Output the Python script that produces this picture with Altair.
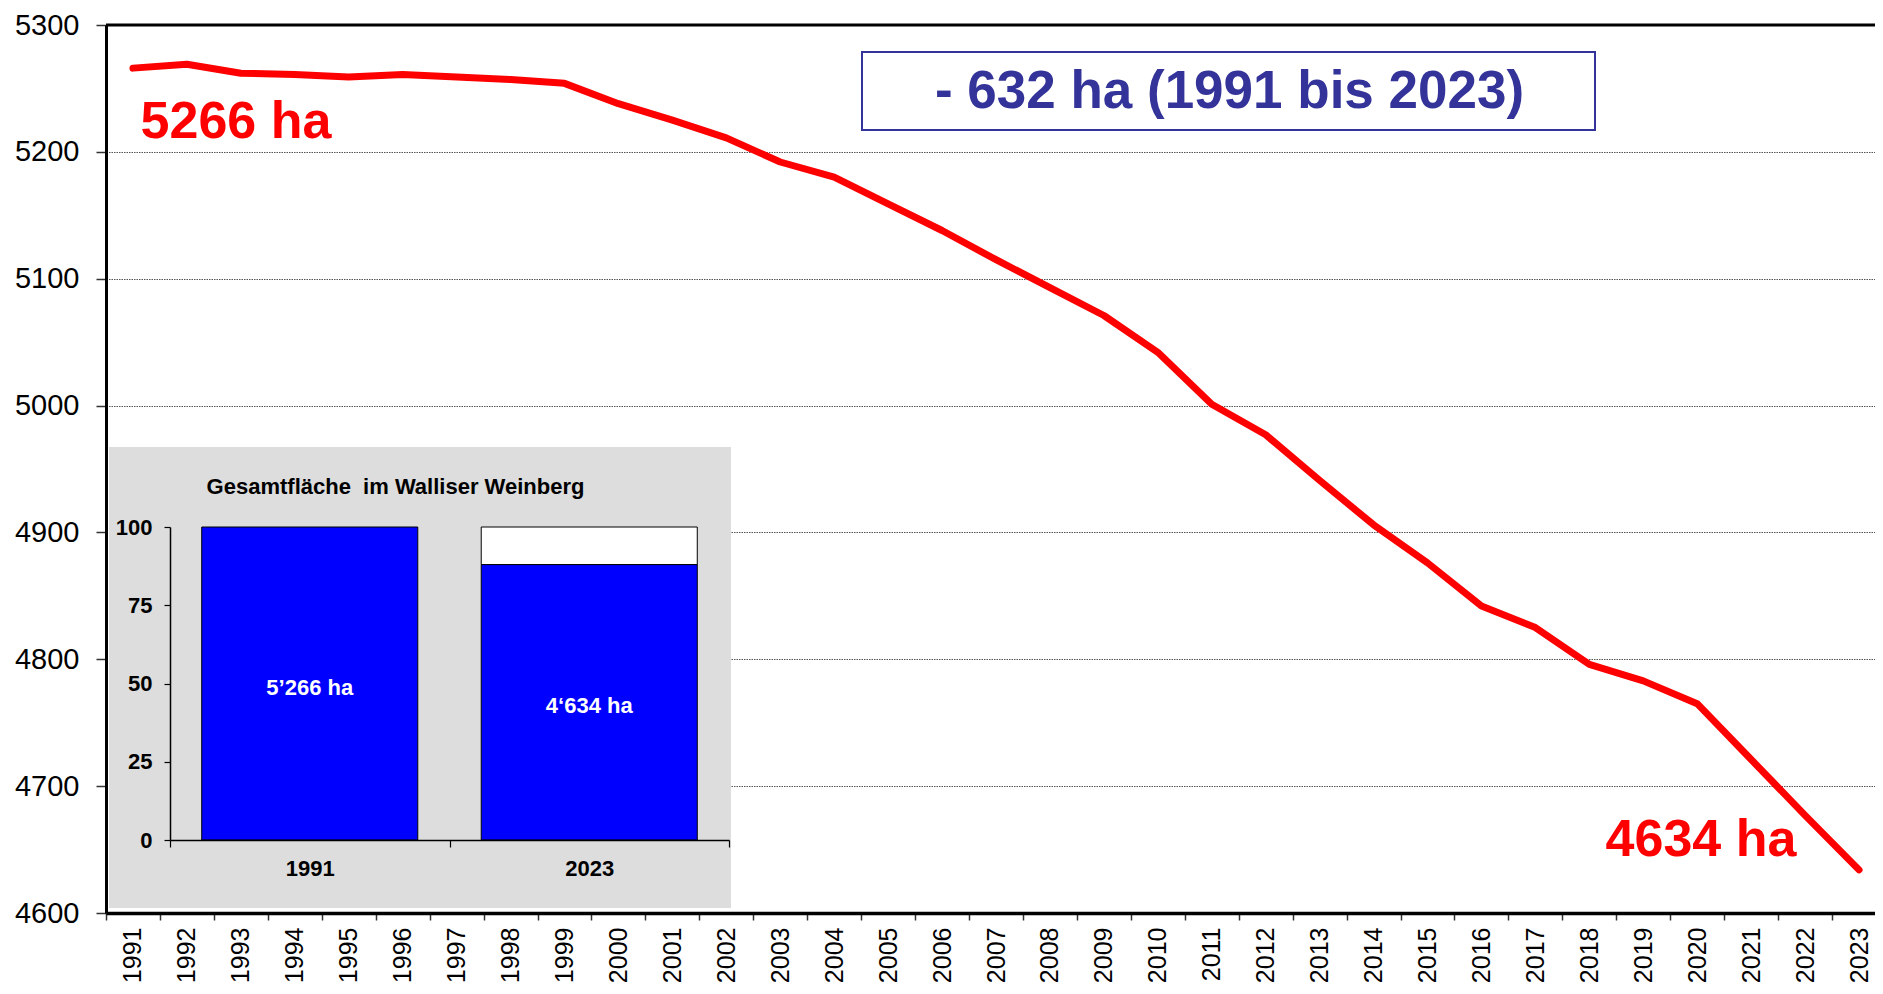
import altair as alt
import pandas as pd

FONT = "Liberation Sans"

# ---------------- data ----------------
years = ["1991", "1992", "1993", "1994", "1995", "1996", "1997", "1998", "1999", "2000",
         "2001", "2002", "2003", "2004", "2005", "2006", "2007", "2008", "2009", "2010",
         "2011", "2012", "2013", "2014", "2015", "2016", "2017", "2018", "2019", "2020",
         "2021", "2022", "2023"]
area_ha = [5266, 5269, 5262, 5261, 5259, 5261, 5259, 5257, 5254, 5238,
           5225, 5211, 5192, 5180, 5159, 5138, 5115, 5093, 5071, 5042,
           5001, 4977, 4941, 4906, 4876, 4842, 4825, 4796, 4783, 4765,
           4721, 4677, 4634]
y_ticks = [4600, 4700, 4800, 4900, 5000, 5100, 5200, 5300]

inset_years = ["1991", "2023"]
inset_share = [100.0, 88.0]
inset_labels = ["5\u2019266 ha", "4\u2018634 ha"]
seg_year = ["1991", "2023", "2023"]
seg_start = [0.0, 0.0, 88.0]
seg_end = [100.0, 88.0, 100.0]
seg_kind = ["Fläche", "Verlust"]
seg_kind_rows = ["Fläche", "Fläche", "Verlust"]
inset_ticks = [0, 25, 50, 75, 100]

label_start = "5266 ha"
label_end = "4634 ha"
box_text = "- 632 ha (1991 bis 2023)"
inset_title = "Gesamtfläche\u00a0\u00a0im Walliser Weinberg"

W, H = 1780, 888

# ---------------- main line ----------------
main_df = pd.DataFrame({"jahr": years, "flaeche": area_ha})

line = alt.Chart(main_df).mark_line(
    color="#FF0000", strokeWidth=7, strokeCap="round", strokeJoin="round"
).encode(
    x=alt.X("jahr:O", sort=years,
            scale=alt.Scale(type="band", paddingInner=0, paddingOuter=0),
            axis=alt.Axis(orient="bottom", title=None, labelAngle=270, labelFont=FONT,
                          labelFontSize=25, labelColor="black", labelPadding=7,
                          tickBand="extent", tickSize=7, tickColor="#333", tickWidth=1.5,
                          domainColor="black", domainWidth=3.5, grid=False)),
    y=alt.Y("flaeche:Q",
            scale=alt.Scale(domain=[4600, 5300], nice=False, zero=False),
            axis=alt.Axis(orient="left", title=None, values=y_ticks, format="d",
                          labelFont=FONT, labelFontSize=29, labelColor="black",
                          labelPadding=17, tickSize=10, tickColor="#333", tickWidth=1.5,
                          domainColor="black", domainWidth=3,
                          grid=True, gridColor="#555555", gridDash=[1.5, 1], gridWidth=1.2)),
)

one = pd.DataFrame({"k": [0]})
top_rule = alt.Chart(one).mark_rule(color="black", strokeWidth=3).encode(
    x=alt.value(0), x2=alt.value(W), y=alt.value(0))

gray_panel = alt.Chart(one).mark_rect(color="#DDDDDD").encode(
    x=alt.value(3), x2=alt.value(625), y=alt.value(422), y2=alt.value(883))

# ---------------- inset ----------------
seg_df = pd.DataFrame({"ij": seg_year, "start": seg_start, "end": seg_end, "kind": seg_kind_rows})
lab_df = pd.DataFrame({"ij": inset_years, "share": inset_share, "label": inset_labels})


def ix_scale():
    return alt.Scale(type="band", domain=inset_years, range=[64, 623],
                     paddingInner=0, paddingOuter=0)


def iy_scale():
    return alt.Scale(domain=[0, 100], range=[815, 502], nice=False, zero=True)


bars = alt.Chart(seg_df).mark_bar(
    width=alt.RelativeBandSize(0.773), stroke="black", strokeWidth=1
).encode(
    x=alt.X("ij:N", sort=inset_years, scale=ix_scale(),
            axis=alt.Axis(orient="bottom", offset=-73, title=None, labelAngle=0,
                          labelFont=FONT, labelFontWeight="bold", labelFontSize=22,
                          labelColor="black", labelPadding=11, tickBand="extent",
                          tickSize=7, tickColor="black", tickWidth=1.2,
                          domainColor="black", domainWidth=1.5, grid=False, zindex=1)),
    y=alt.Y("start:Q", scale=iy_scale(),
            axis=alt.Axis(orient="left", offset=-64, title=None, values=inset_ticks, format="d",
                          labelFont=FONT, labelFontWeight="bold", labelFontSize=22,
                          labelColor="black", labelPadding=12, tickSize=6,
                          tickColor="black", tickWidth=1.2, domainColor="black",
                          domainWidth=1.5, grid=False, zindex=1)),
    y2="end:Q",
    color=alt.Color("kind:N", scale=alt.Scale(domain=seg_kind, range=["#0000FF", "#FFFFFF"]),
                    legend=None),
)

bar_text = alt.Chart(lab_df).transform_calculate(mid="datum.share / 2").mark_text(
    font=FONT, fontWeight="bold", fontSize=22, color="white", baseline="middle",
    align="center", dy=4
).encode(
    x=alt.X("ij:N", sort=inset_years, scale=ix_scale(), axis=None),
    y=alt.Y("mid:Q", scale=iy_scale(), axis=None),
    text="label:N",
)

inset_title_t = alt.Chart(pd.DataFrame({"t": [inset_title]})).mark_text(
    font=FONT, fontWeight="bold", fontSize=22, color="black", align="center", baseline="middle"
).encode(text="t:N", x=alt.value(289.5), y=alt.value(462))

# ---------------- annotations ----------------
start_t = alt.Chart(pd.DataFrame({"t": [label_start]})).mark_text(
    font=FONT, fontWeight="bold", fontSize=52, color="#FF0000", align="center", baseline="middle"
).encode(text="t:N", x=alt.value(130), y=alt.value(96.5))

end_t = alt.Chart(pd.DataFrame({"t": [label_end]})).mark_text(
    font=FONT, fontWeight="bold", fontSize=52, color="#FF0000", align="center", baseline="middle"
).encode(text="t:N", x=alt.value(1595), y=alt.value(815))

box = alt.Chart(one).mark_rect(fill="white", stroke="#333399", strokeWidth=2).encode(
    x=alt.value(756), x2=alt.value(1489), y=alt.value(27), y2=alt.value(105))

box_t = alt.Chart(pd.DataFrame({"t": [box_text]})).mark_text(
    font=FONT, fontWeight="bold", fontSize=53, color="#333399", align="center", baseline="middle"
).encode(text="t:N", x=alt.value(1123.5), y=alt.value(67))

chart = alt.layer(
    line, top_rule, gray_panel, bars, bar_text, inset_title_t, start_t, end_t, box, box_t
).resolve_scale(
    x="independent", y="independent"
).properties(
    width=W, height=H,
    padding={"left": 98, "top": 17, "right": -11, "bottom": 70},
    autosize=alt.AutoSizeParams(type="none"),
    background="white",
).configure_view(stroke=None)

chart.save("out.html", embed_options={"renderer": "svg", "actions": False})
